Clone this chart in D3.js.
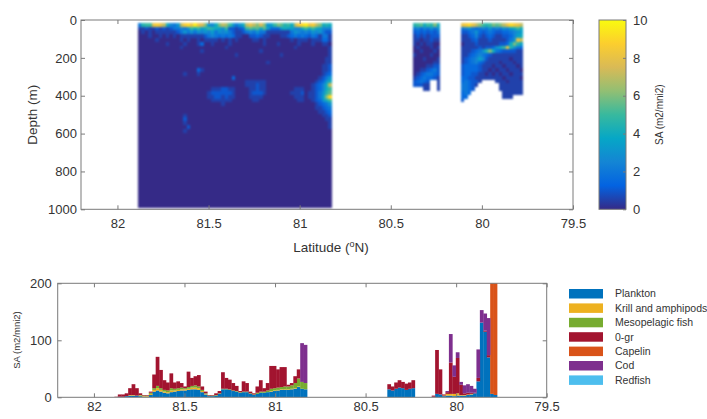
<!DOCTYPE html>
<html>
<head>
<meta charset="utf-8">
<script src="https://cdn.jsdelivr.net/npm/d3@7"></script>
<style>
  body { margin: 0; background: #fff; }
  svg { display: block; }
  text { font-family: "Liberation Sans", Arial, Helvetica, sans-serif; fill: #333; }
</style>
</head>
<body>
<svg id="chart" width="707" height="419"></svg>
<script>
// ---------------- data ----------------
const latTicks = [82, 81.5, 81, 80.5, 80, 79.5];
const depthTicks = [0, 200, 400, 600, 800, 1000];
const saTicks = [0, 2, 4, 6, 8, 10];
const barTicks = [0, 100, 200];

// transect segments: first latitude of each run of 0.019° bins and number of bins
const binWidth = 0.019;
const segmentStarts = [81.887, 80.38, 80.135];
const segmentCounts = [56, 8, 19];

// echogram cells: 20 m depth rows starting at 15 m; each char is SA*2 in this alphabet, "." = no data
const depthTop = 15;
const depthStep = 20;
const saLevels = "0123456789abcdefghijk";

const echoRowsA = [
  "49aaghge 8546ehig jgfc658c eda6468e gecfc67a cb9a8ehi jghec898",
  "11211212 1244546a 8a78a987 6a22123a bab8b733 37877558 a8a87555",
  "01010111 11124646 46565746 56421124 54644111 11114654 54656422",
  "00010010 10101111 11124543 43431100 22321100 01123434 32431441",
  "00000100 00001010 01011110 10101000 01101000 00001011 10111331",
  "00000000 10000100 01300100 00100000 00001000 10000010 00100110",
  "00000000 00001000 00000000 01000000 00000000 00000100 00000001",
  "00000000 00000000 00100000 00000000 00010000 00000000 00000001",
  "00000000 00000000 00000000 00001000 00000000 01000000 00000001",
  "00000000 00000000 00000000 00000000 00000000 00000000 00000011",
  "00000000 00000000 00000000 00000000 00000100 00000000 00000011",
  "00000000 00000000 00000000 00000000 00000000 00000000 00000112",
  "00000000 00000000 03100000 00000000 00000000 00000000 00000112",
  "00000000 00000100 01000000 00000000 00000000 00000000 00000123",
  "00000000 00000000 00000000 00030000 00000000 00000000 00001246",
  "00000000 00000000 00000000 00000001 11111000 00000000 00012368",
  "00000000 00000000 00000000 00000001 11211000 00000000 0012358e",
  "00000000 00000000 00000111 22110000 11211000 00000111 0012358a",
  "00000000 00000000 00001222 22210000 12221000 00001112 0112469b",
  "00000000 00000000 00001122 12110000 11110000 00000111 011247ci",
  "00000000 00000000 00000111 11100000 01100000 00000011 0012368a",
  "00000000 00000000 00000000 10000000 00000000 00000000 00012346",
  "00000000 00000000 00000000 00000000 00000000 00000000 00011234",
  "00000000 00000000 00000000 00000000 00000000 00000000 00001123",
  "00000000 00000100 00000000 00000000 00000000 00000000 00000112",
  "00000000 00000200 00000000 00000000 00000000 00000000 00000011",
  "00000000 00000100 00000000 00000000 00000000 00000000 00000001",
  "00000000 00000020 00000000 00000000 00000000 00000000 00000001",
  "00000000 00000100 00000000 00000000 00000000 00000000 00000000",
  "00000000 00000000 00000000 00000000 00000000 00000000 00000000",
  "00000000 00000000 00000000 00000000 00000000 00000000 00000000",
  "00000000 00000000 00000000 00000000 00000000 00000000 00000000",
  "00000000 00000000 00000000 00000000 00000000 00000000 00000000",
  "00000000 00000000 00000000 00000000 00000000 00000000 00000000",
  "00000000 00000000 00000000 00000000 00000000 00000000 00000000",
  "00000000 00000000 00000000 00000000 00000000 00000000 00000000",
  "00000000 00000000 00000000 00000000 00000000 00000000 00000000",
  "00000000 00000000 00000000 00000000 00000000 00000000 00000000",
  "00000000 00000000 00000000 00000000 00000000 00000000 00000000",
  "00000000 00000000 00000000 00000000 00000000 00000000 00000000",
  "00000000 00000000 00000000 00000000 00000000 00000000 00000000",
  "00000000 00000000 00000000 00000000 00000000 00000000 00000000",
  "00000000 00000000 00000000 00000000 00000000 00000000 00000000",
  "00000000 00000000 00000000 00000000 00000000 00000000 00000000",
  "00000000 00000000 00000000 00000000 00000000 00000000 00000000",
  "00000000 00000000 00000000 00000000 00000000 00000000 00000000",
  "00000000 00000000 00000000 00000000 00000000 00000000 00000000",
  "00000000 00000000 00000000 00000000 00000000 00000000 00000000",
  "00000000 00000000 00000000 00000000 00000000 00000000 00000000"
];

const echoRowsB = [
  "9ab8a9c8", "45354646", "23232324", "12121222", "11011211",
  "10101100", "01000101", "00100010", "10000100", "00010001",
  "00000011", "00001122", "00112342", "01234432", "12343321",
  "23432..1", "22211..1", "...11..1"
];

const echoRowsC = [
  ".ghigeca9acbcegihge",
  ".4564345464546578a8",
  ".223463234322334567",
  ".112352123211223578",
  ".1112311121111246ge",
  ".011121111112238c97",
  ".111112122368ah9643",
  ".11123469c843222211",
  ".112345432111111111",
  ".123457521111110111",
  ".123453211110111011",
  ".233332111011011101",
  ".233332110101101110",
  ".233221101010110111",
  ".332211111111011110",
  ".343221....11101111",
  ".44321......1111111",
  ".4432.......1111111",
  ".343.........111111",
  ".33..........111...",
  ".2................."
];

// integrated SA per bin and group (m2/nmi2), one value per bin in segment order
const speciesNames = ["Plankton", "Krill and amphipods", "Mesopelagic fish", "0-gr", "Capelin", "Cod", "Redfish"];

const plankton = [
  0,1,1,2,3,3,3,2,1,1,4,10,12,10,8,7,9,10,11,12,12,13,14,14,13,9,5,2,2,3,6,14,14,13,11,10,8,9,9,6,4,6,8,8,9,10,11,12,13,13,13,14,15,18,15,14,
  14,12,15,17,16,13,15,16,
  1,6,5,2,3,3,2,3,3,3,4,5,7,28,131,115,70,6,4
];
const krill = [
  0,0,0,0,1,1,0,1,1,1,2,3,4,3,2,2,3,2,2,2,2,2,3,3,3,2,1,0,0,0,0,0,0,0,0,0,0,0,0,0,0,0,0,0,0,1,1,1,1,1,1,1,1,1,0,0,
  0,0,0,0,0,0,0,0,
  0,0,0,1,3,3,4,4,1,1,1,1,0,0,0,0,0,0,0
];
const mesopelagic = [
  0,0,0,0,0,0,0,1,1,1,2,3,4,3,3,3,4,3,3,3,2,3,3,4,3,2,1,1,1,1,1,1,1,1,1,1,1,1,1,1,1,2,2,2,3,4,4,4,4,5,5,6,9,14,12,11,
  0,0,0,0,0,0,0,0,
  0,0,0,0,0,0,0,0,0,0,0,0,0,0,0,0,0,0,0
];
const zeroGroup = [
  1,4,4,5,12,19,13,3,1,1,2,24,51,32,17,14,26,11,12,8,3,27,14,16,20,6,3,1,1,3,4,29,19,17,13,9,2,18,15,3,2,11,20,6,13,40,39,32,35,34,3,4,12,16,0,0,
  9,7,11,13,11,11,11,14,
  2,77,44,2,3,55,30,62,18,3,3,2,1,6,0,2,4,0,0
];
const capelin = [
  0,0,0,0,0,0,0,0,0,0,0,0,0,0,0,0,0,0,0,0,0,0,0,0,0,0,0,0,0,0,0,0,0,0,0,0,0,0,0,0,0,0,0,0,0,0,0,0,0,0,0,0,0,0,0,0,
  0,0,0,0,0,0,0,0,
  0,0,0,0,0,0,0,0,0,0,0,0,0,0,0,0,0,240,240
];
const cod = [
  0,0,0,0,0,0,0,0,0,0,0,0,0,0,0,0,0,0,0,0,0,0,0,0,0,0,0,0,0,0,0,0,0,0,0,0,0,0,0,0,0,0,0,0,0,0,0,0,0,0,0,0,0,0,68,67,
  0,0,0,0,0,0,0,0,
  0,0,0,0,2,50,20,10,5,14,15,12,7,50,22,30,65,0,0
];
const redfish = [
  0,0,0,0,0,0,0,0,0,0,0,0,0,0,0,0,0,0,0,0,0,0,0,0,0,0,0,0,0,0,0,0,0,0,0,0,0,0,0,0,0,0,0,0,0,0,0,0,0,0,0,0,0,0,0,0,
  0,0,0,0,0,0,0,0,
  0,0,0,0,0,0,0,0,0,0,0,0,0,0,0,0,0,0,0
];

// ---------------- styling ----------------
const speciesColors = ["#0072bd", "#edb120", "#77ac30", "#a2142f", "#d95319", "#7e2f8e", "#4dbeee"];
const parulaColors = ["#352a87", "#0363e1", "#1485d4", "#06a7c6", "#38b99e", "#92bf73", "#d9ba56", "#fcce2e", "#f9fb0e"];
const AXIS = "#7a7a7a";
const TEXT = "#333";

const svg = d3.select("#chart");
const defs = svg.append("defs");

const saColor = d3.scaleLinear()
  .domain(parulaColors.map((_, i) => i * 10 / (parulaColors.length - 1)))
  .range(parulaColors)
  .clamp(true);

// MATLAB-like boxed axes with inward ticks on all four sides
function boxAxes(x, y, xTicks, yTicks, padX, padY, fontSize) {
  const [xl, xr] = x.range();
  const yb = Math.max(...y.range()), yt = Math.min(...y.range());
  const g = svg.append("g");
  g.append("g").attr("transform", `translate(0,${yb})`)
    .call(d3.axisBottom(x).tickValues(xTicks).tickSizeInner(-4).tickSizeOuter(0).tickPadding(padX).tickFormat(d3.format("")));
  g.append("g").attr("transform", `translate(0,${yt})`)
    .call(d3.axisTop(x).tickValues(xTicks).tickSizeInner(-4).tickSizeOuter(0).tickFormat(""));
  g.append("g").attr("transform", `translate(${xl},0)`)
    .call(d3.axisLeft(y).tickValues(yTicks).tickSizeInner(-4).tickSizeOuter(0).tickPadding(padY).tickFormat(d3.format("")));
  g.append("g").attr("transform", `translate(${xr},0)`)
    .call(d3.axisRight(y).tickValues(yTicks).tickSizeInner(-4).tickSizeOuter(0).tickFormat(""));
  g.selectAll(".domain").remove();
  g.selectAll(".tick line").attr("stroke", AXIS);
  g.selectAll(".tick text").attr("fill", TEXT).attr("font-size", fontSize)
    .attr("font-family", '"Liberation Sans", Arial, sans-serif');
  g.append("rect").attr("x", xl).attr("y", yt).attr("width", xr - xl).attr("height", yb - yt)
    .attr("fill", "none").attr("stroke", AXIS).attr("stroke-width", 1);
  return g;
}

// ---------------- echogram panel ----------------
const x1 = d3.scaleLinear().domain([82.2, 79.5]).range([81, 573]);
const y1 = d3.scaleLinear().domain([0, 1000]).range([20, 209.3]);

defs.append("filter").attr("id", "soft")
  .attr("color-interpolation-filters", "sRGB")
  .attr("filterUnits", "userSpaceOnUse")
  .attr("x", 70).attr("y", 10).attr("width", 520).attr("height", 210)
  .append("feGaussianBlur").attr("stdDeviation", 0.9);

const cells = [];
[echoRowsA, echoRowsB, echoRowsC].forEach((rows, s) => {
  rows.forEach((row, j) => {
    [...row.replace(/ /g, "")].forEach((ch, i) => {
      if (ch === ".") return;
      cells.push({
        lat0: segmentStarts[s] - i * binWidth,
        lat1: segmentStarts[s] - (i + 1) * binWidth,
        d0: depthTop + j * depthStep,
        d1: depthTop + (j + 1) * depthStep,
        sa: saLevels.indexOf(ch) / 2
      });
    });
  });
});

// cells snapped to whole pixels so neighbouring rects leave no seams
svg.append("g").attr("filter", "url(#soft)")
  .selectAll("rect").data(cells).join("rect")
  .attr("shape-rendering", "crispEdges")
  .attr("x", d => Math.round(x1(d.lat0)))
  .attr("y", d => Math.round(y1(d.d0)))
  .attr("width", d => Math.round(x1(d.lat1)) - Math.round(x1(d.lat0)))
  .attr("height", d => Math.round(y1(d.d1)) - Math.round(y1(d.d0)))
  .attr("fill", d => saColor(d.sa));

boxAxes(x1, y1, latTicks, depthTicks, 9, 4, 13);

svg.append("text")
  .attr("transform", `translate(37,${(20 + 209.3) / 2}) rotate(-90)`)
  .attr("text-anchor", "middle").attr("font-size", 13.5).attr("fill", TEXT)
  .text("Depth (m)");

const xl = svg.append("text").attr("x", 331).attr("y", 252).attr("text-anchor", "middle")
  .attr("font-size", 13.5).attr("fill", TEXT);
xl.append("tspan").text("Latitude (");
xl.append("tspan").attr("font-size", 9).attr("dy", -5).text("o");
xl.append("tspan").attr("dy", 5).text("N)");

// colour bar
const cb = { x: 599, w: 27 };
const cbY = d3.scaleLinear().domain([0, 10]).range([209.3, 20]);
const grad = defs.append("linearGradient").attr("id", "parula")
  .attr("x1", 0).attr("y1", 1).attr("x2", 0).attr("y2", 0);
grad.selectAll("stop").data(parulaColors).join("stop")
  .attr("offset", (d, i) => i / (parulaColors.length - 1))
  .attr("stop-color", d => d);
svg.append("rect").attr("x", cb.x).attr("y", cbY(10)).attr("width", cb.w).attr("height", cbY(0) - cbY(10))
  .attr("fill", "url(#parula)").attr("stroke", AXIS);
const cbAxis = svg.append("g").attr("transform", `translate(${cb.x + cb.w},0)`)
  .call(d3.axisRight(cbY).tickValues(saTicks).tickSizeInner(-3).tickSizeOuter(0).tickPadding(7));
cbAxis.select(".domain").remove();
cbAxis.selectAll(".tick line").attr("stroke", AXIS);
cbAxis.selectAll(".tick text").attr("fill", TEXT).attr("font-size", 13)
  .attr("font-family", '"Liberation Sans", Arial, sans-serif');
svg.append("text")
  .attr("transform", `translate(663,${(20 + 209.3) / 2}) rotate(-90)`)
  .attr("text-anchor", "middle").attr("font-size", 10).attr("fill", TEXT)
  .text("SA (m2/mni2)");

// ---------------- stacked SA panel ----------------
const x2 = d3.scaleLinear().domain([82.2, 79.5]).range([57.7, 546.7]);
const y2 = d3.scaleLinear().domain([0, 200]).range([397.3, 283.3]);

const groups = [plankton, krill, mesopelagic, zeroGroup, capelin, cod, redfish];
const bins = [];
segmentStarts.forEach((start, s) => {
  for (let i = 0; i < segmentCounts[s]; i++) {
    const k = bins.length;
    const row = { lat0: start - i * binWidth, lat1: start - (i + 1) * binWidth };
    speciesNames.forEach((name, n) => { row[name] = groups[n][k]; });
    bins.push(row);
  }
});

const stacked = d3.stack().keys(speciesNames)(bins);

defs.append("clipPath").attr("id", "barClip").append("rect")
  .attr("x", 57.7).attr("y", 283.3).attr("width", 546.7 - 57.7).attr("height", 397.3 - 283.3);

svg.append("g").attr("clip-path", "url(#barClip)")
  .selectAll("g").data(stacked).join("g")
  .attr("fill", (d, i) => speciesColors[i])
  .selectAll("rect").data(d => d).join("rect")
  .attr("x", d => x2(d.data.lat0))
  .attr("width", d => x2(d.data.lat1) - x2(d.data.lat0) + 0.3)
  .attr("y", d => y2(d[1]))
  .attr("height", d => Math.max(0, y2(d[0]) - y2(d[1])));

boxAxes(x2, y2, latTicks, barTicks, 4, 6, 13);

svg.append("text")
  .attr("transform", `translate(20,340) rotate(-90)`)
  .attr("text-anchor", "middle").attr("font-size", 9.5).attr("fill", TEXT)
  .text("SA (m2/mni2)");

// legend
const legend = svg.append("g").attr("transform", "translate(569,289)");
const items = legend.selectAll("g").data(speciesNames).join("g")
  .attr("transform", (d, i) => `translate(0,${i * 14.4})`);
items.append("rect").attr("width", 34).attr("height", 9.5).attr("fill", (d, i) => speciesColors[i]);
items.append("text").attr("x", 46).attr("y", 4.8).attr("dy", "0.35em")
  .attr("font-size", 10.5).attr("fill", TEXT).text(d => d);
</script>
</body>
</html>
